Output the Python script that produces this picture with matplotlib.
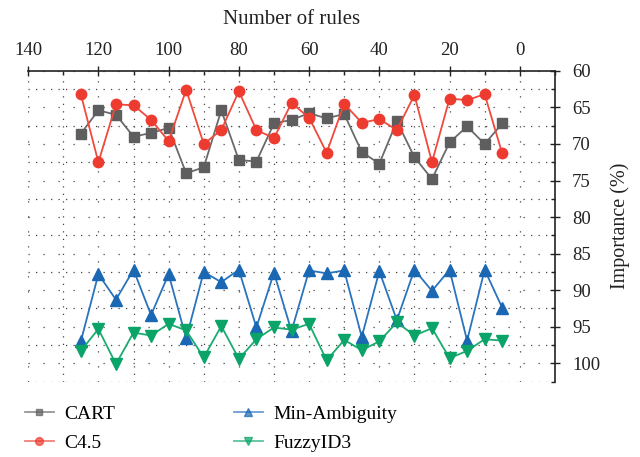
import matplotlib
matplotlib.use("Agg")
import matplotlib.pyplot as plt
from matplotlib.ticker import MultipleLocator

plt.rcParams['font.family'] = ['Liberation Serif', 'DejaVu Serif']

# number of rules (x) and importance values (%) per method
rules = [125, 120, 115, 110, 105, 100, 95, 90, 85, 80, 75, 70, 65,
         60, 55, 50, 45, 40, 35, 30, 25, 20, 15, 10, 5]
cart = [68.6, 65.4, 66.0, 69.0, 68.5, 67.8, 74.0, 73.2, 65.4, 72.2, 72.4, 67.2, 66.7,
        65.8, 66.5, 65.9, 71.1, 72.7, 66.9, 71.8, 74.8, 69.8, 67.6, 70.0, 67.2]
c45 = [63.2, 72.5, 64.6, 64.7, 66.7, 69.6, 62.6, 70.0, 68.1, 62.8, 68.1, 69.2, 64.4,
       66.4, 71.2, 64.5, 67.1, 66.6, 68.1, 63.3, 72.5, 63.8, 64.0, 63.2, 71.3]
min_amb = [97.0, 87.8, 91.3, 87.2, 93.4, 87.8, 96.6, 87.5, 88.9, 87.2, 95.1, 87.6, 95.6,
           87.3, 87.7, 87.3, 96.4, 87.4, 94.1, 87.2, 90.1, 87.2, 96.9, 87.2, 92.4]
fuzzy = [98.3, 95.3, 100.1, 95.8, 96.2, 94.6, 95.5, 99.2, 94.9, 99.4, 96.7, 95.1, 95.4,
         94.6, 99.6, 96.8, 98.2, 97.0, 94.4, 96.2, 95.2, 99.3, 98.3, 96.7, 96.9]

fig = plt.figure(figsize=(6.4, 4.57), dpi=100)
ax = fig.add_axes([0.044, 0.165, 0.823, 0.68])

ax.plot(rules, cart, color='#6a6a6a', marker='s', ms=6.5, lw=1.3, mec='#5e5e5e', mfc='#5e5e5e', label='CART')
ax.plot(rules, c45, color='#ef4a3c', marker='o', ms=7.5, lw=1.3, mec='#ee3b30', mfc='#ee3b30', label='C4.5')
ax.plot(rules, min_amb, color='#2a74bd', marker='^', ms=8, lw=1.3, mec='#1a67b3', mfc='#1a67b3', label='Min-Ambiguity')
ax.plot(rules, fuzzy, color='#1aab70', marker='v', ms=8, lw=1.3, mec='#0aa468', mfc='#0aa468', label='FuzzyID3')

ax.set_xlim(140, -10)
ax.set_ylim(102.5, 60)

ax.xaxis.tick_top()
ax.xaxis.set_label_position('top')
ax.yaxis.tick_right()
ax.yaxis.set_label_position('right')
ax.set_xticks([140, 120, 100, 80, 60, 40, 20, 0])
ax.xaxis.set_minor_locator(MultipleLocator(10))
ax.set_yticks([60, 65, 70, 75, 80, 85, 90, 95, 100])
ax.yaxis.set_minor_locator(MultipleLocator(2.5))

ax.tick_params(which='major', direction='inout', length=7, width=1, labelsize=13.5, colors='#222222')
ax.tick_params(which='minor', direction='in', length=3, width=1, colors='#222222')
ax.tick_params(axis='x', which='major', pad=5)
ax.tick_params(axis='y', which='major', pad=9)

for s in ['left', 'bottom']:
    ax.spines[s].set_visible(False)
for s in ['top', 'right']:
    ax.spines[s].set_color('#222222')
    ax.spines[s].set_linewidth(1.2)

# dotted grid: sparse at major, dense at minor
ax.grid(True, which='major', color='#444444', lw=0.9, linestyle=(0, (1, 11)))
ax.grid(True, which='minor', color='#444444', lw=0.9, linestyle=(0, (1, 5)))
ax.set_axisbelow(True)

ax.set_xlabel('Number of rules', fontsize=15, labelpad=13, color='#222222')
ax.set_ylabel('Importance (%)', fontsize=14.5, labelpad=7, color='#222222')

leg = fig.legend(loc='lower left', bbox_to_anchor=(0.011, -0.028), ncol=2, frameon=False,
                 fontsize=14, handlelength=1.5, columnspacing=6.1, labelspacing=0.62,
                 handletextpad=0.55, markerscale=0.75)
for ln in leg.get_lines():
    ln.set_alpha(0.7)

fig.savefig('out.png', dpi=100)
